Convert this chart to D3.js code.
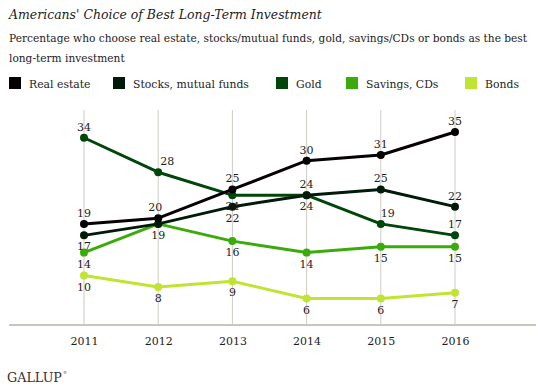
<!DOCTYPE html>
<html>
<head>
<meta charset="utf-8">
<script src="https://cdn.jsdelivr.net/npm/d3@7"></script>
<style>
  body { margin: 0; background: #fff; }
</style>
</head>
<body>
<div id="chart"></div>
<script>
// data
const years = [2011, 2012, 2013, 2014, 2015, 2016];
const seriesNames = ["Real estate", "Stocks, mutual funds", "Gold", "Savings, CDs", "Bonds"];
const realEstate = [19, 20, 25, 30, 31, 35];
const stocks = [17, 19, 22, 24, 25, 22];
const gold = [34, 28, 24, 24, 19, 17];
const savings = [14, 19, 16, 14, 15, 15];
const bonds = [10, 8, 9, 6, 6, 7];

// styling / label placement (a = above, b = below, n = none)
const colors = ["#060102", "#021a08", "#00450a", "#3aab0a", "#bfe532"];
const labelPos = [
  ["a", "a", "a", "a", "a", "a"],
  ["b", "n", "b", "a", "a", "a"],
  ["a", "a", "b", "b", "a", "a"],
  ["b", "b", "b", "b", "b", "b"],
  ["b", "b", "b", "b", "b", "b"]
];
const labelDx = [
  [0, -3, 0, 0, 0, 0],
  [0, 0, 0, 0, 0, 0],
  [0, 9, 0, 0, 7, 0],
  [0, 0, 0, 0, 0, 0],
  [0, 0, 0, 0, 0, 0]
];

const allSeries = [realEstate, stocks, gold, savings, bonds];

const FONT = "'DejaVu Serif', 'Liberation Serif', serif";
const INK = "#241b1e";

const W = 536, H = 384;
const svg = d3.select("#chart").append("svg")
  .attr("width", W).attr("height", H)
  .attr("font-family", FONT);

// shrink/grow a text's font so it spans the width seen in the picture
function fitWidth(sel, target, start) {
  sel.style("font-size", start + "px");
  const len = sel.node().getComputedTextLength();
  sel.style("font-size", (start * target / len).toFixed(2) + "px");
}

// title + subtitle
const title = svg.append("text")
  .attr("x", 9).attr("y", 19)
  .attr("fill", INK)
  .style("font-style", "italic")
  .text("Americans' Choice of Best Long-Term Investment");
fitWidth(title, 313, 14);

const sub1 = svg.append("text")
  .attr("x", 9).attr("y", 42)
  .attr("fill", INK)
  .text("Percentage who choose real estate, stocks/mutual funds, gold, savings/CDs or bonds as the best");
fitWidth(sub1, 518, 12);
svg.append("text")
  .attr("x", 9).attr("y", 62)
  .attr("fill", INK)
  .style("font-size", sub1.style("font-size"))
  .text("long-term investment");

// legend
const legendX = [9, 113, 276, 346, 465];
const legend = svg.append("g").selectAll("g")
  .data(seriesNames)
  .join("g")
  .attr("transform", (d, i) => `translate(${legendX[i]},77)`);
legend.append("rect")
  .attr("width", 12).attr("height", 12)
  .attr("fill", (d, i) => colors[i]);
const legText = legend.append("text")
  .attr("x", 20).attr("y", 11)
  .attr("fill", INK)
  .text(d => d);
fitWidth(d3.select(legText.nodes()[1]), 116, 12);
legText.style("font-size", d3.select(legText.nodes()[1]).style("font-size"));

// scales
const x = d3.scalePoint().domain(years).range([84, 455]);
const y = d3.scaleLinear().domain([0, 35]).range([333, 132]);

const plot = svg.append("g");

// vertical gridlines
plot.selectAll(".grid")
  .data(years)
  .join("line")
  .attr("class", "grid")
  .attr("x1", d => x(d)).attr("x2", d => x(d))
  .attr("y1", 110).attr("y2", 325)
  .attr("stroke", "#cfcbc6").attr("stroke-width", 1);

// baseline
plot.append("line")
  .attr("x1", 9).attr("x2", 536)
  .attr("y1", 325).attr("y2", 325)
  .attr("stroke", "#c9c5bf").attr("stroke-width", 2);

// x axis labels
const xAxis = d3.axisBottom(x).tickSize(0).tickPadding(0);
const xAxisG = svg.append("g")
  .attr("transform", "translate(0,337)")
  .call(xAxis);
xAxisG.attr("font-family", FONT).attr("font-size", 11);
xAxisG.select(".domain").remove();
xAxisG.selectAll("text").attr("fill", INK);

// lines drawn bottom-up so darker series sit on top
const line = d3.line()
  .x((d, i) => x(years[i]))
  .y(d => y(d));

const order = [4, 3, 2, 1, 0];
order.forEach(si => {
  const vals = allSeries[si];
  plot.append("path")
    .datum(vals)
    .attr("d", line)
    .attr("fill", "none")
    .attr("stroke", colors[si])
    .attr("stroke-width", 3)
    .attr("stroke-linejoin", "round");
  plot.selectAll(".pt" + si)
    .data(vals)
    .join("circle")
    .attr("class", "pt" + si)
    .attr("cx", (d, i) => x(years[i]))
    .attr("cy", d => y(d))
    .attr("r", 4)
    .attr("fill", colors[si]);
});

// value labels
allSeries.forEach((vals, si) => {
  vals.forEach((v, i) => {
    const pos = labelPos[si][i];
    if (pos === "n") return;
    svg.append("text")
      .attr("x", x(years[i]) + labelDx[si][i])
      .attr("y", y(v) + (pos === "a" ? -7 : 15))
      .attr("text-anchor", "middle")
      .attr("fill", INK)
      .style("font-size", "11px")
      .text(v);
  });
});

// footer
const gallup = svg.append("text")
  .attr("x", 7).attr("y", 382)
  .attr("fill", "#3a2e30")
  .text("GALLUP");
fitWidth(gallup, 55, 12);
svg.append("text")
  .attr("x", 63).attr("y", 374)
  .attr("fill", "#3a2e30")
  .style("font-size", "4px")
  .text("®");
</script>
</body>
</html>
